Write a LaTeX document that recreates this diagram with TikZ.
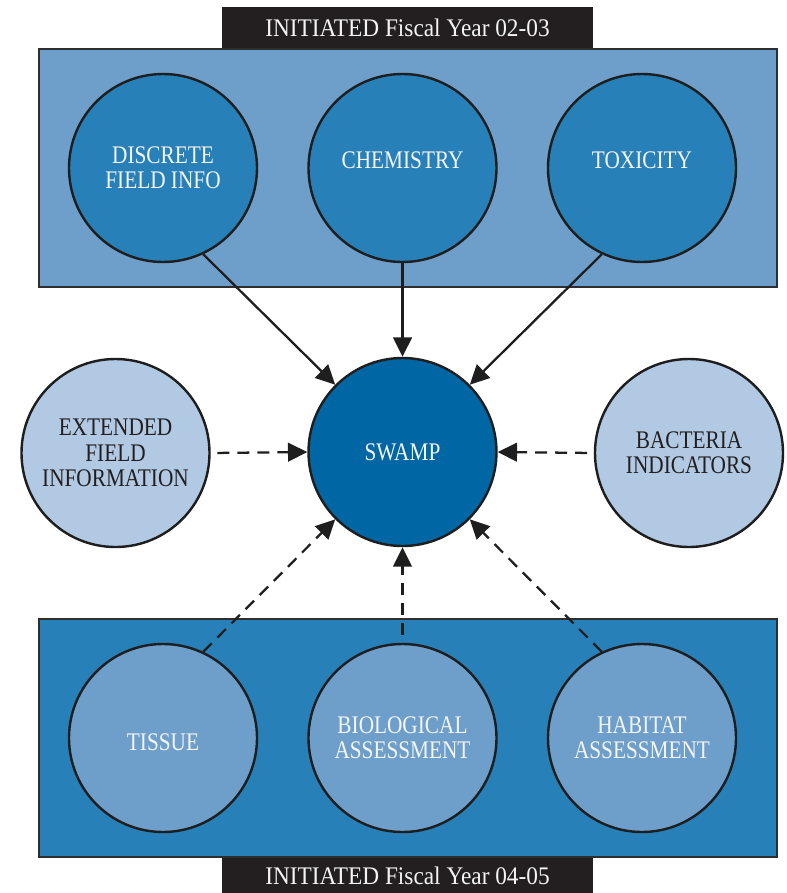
\documentclass[tikz,border=0pt]{standalone}
\usepackage{fontspec}
\setmainfont{Liberation Serif}
\newfontfamily\lblfont[FakeStretch=0.84]{Liberation Serif}
\newfontfamily\ttlfont[FakeStretch=0.92]{Liberation Serif}
\usetikzlibrary{arrows.meta}
\definecolor{topbox}{HTML}{6E9FCB}
\definecolor{topcirc}{HTML}{2880B9}
\definecolor{swampc}{HTML}{0066A4}
\definecolor{sidec}{HTML}{B1C9E3}
\definecolor{botbox}{HTML}{2880B9}
\definecolor{botcirc}{HTML}{6E9FCB}
\definecolor{barc}{HTML}{231F20}
\definecolor{boxline}{HTML}{2E2E2E}
\definecolor{inkc}{HTML}{1E1E1E}
\definecolor{paper}{HTML}{F4F4F4}
\tikzset{
  bubble/.style={circle, draw=inkc, line width=1.8pt, minimum size=141pt, inner sep=0pt,
    align=center, font={\lblfont\fontsize{19}{19}\selectfont}},
  darkbubble/.style={bubble, text=paper},
  lightbubble/.style={bubble, text=barc},
  panel/.style={draw=boxline, line width=2pt},
  bartext/.style={text=paper, font={\ttlfont\fontsize{19}{19}\selectfont}, inner sep=0pt},
  link/.style={draw=inkc, line width=1.7pt, -{Triangle[length=14.5pt,width=14pt]}},
  dlink/.style={link, dash pattern=on 9pt off 6pt}
}
\begin{document}
\begin{tikzpicture}[x=0.75pt,y=-0.75pt]
\useasboundingbox (0,0) rectangle (787,893);
\fill[white] (0,0) rectangle (787,893);
% panels
\filldraw[panel, fill=topbox] (39,49) rectangle (777,287);
\filldraw[panel, fill=botbox] (39,619) rectangle (777,857);
% title bars
\fill[barc] (222,7) rectangle (593,48);
\fill[barc] (222,858) rectangle (593,898);
\node[bartext] (ttop) at (407.5,27.5) {INITIATED Fiscal Year 02-03};
\node[bartext] (tbot) at (407.5,875.5) {INITIATED Fiscal Year 04-05};
% circles
\node[darkbubble, fill=topcirc] (dfi) at (163,168) {DISCRETE\\FIELD INFO};
\node[darkbubble, fill=topcirc] (chem) at (402.5,168) {\smash{CHEMISTRY}};
\node[darkbubble, fill=topcirc] (tox) at (642,168) {\smash{TOXICITY}};
\node[darkbubble, fill=swampc] (swamp) at (402.5,452) {SWAMP};
\node[lightbubble, fill=sidec] (ext) at (115.5,453) {EXTENDED\\FIELD\\INFORMATION};
\node[lightbubble, fill=sidec] (bac) at (689,453) {BACTERIA\\INDICATORS};
\node[darkbubble, fill=botcirc] (tis) at (163,738) {\smash{\raisebox{-9pt}{TISSUE}}};
\node[darkbubble, fill=botcirc] (bio) at (402.5,738) {BIOLOGICAL\\ASSESSMENT};
\node[darkbubble, fill=botcirc] (hab) at (642,738) {HABITAT\\ASSESSMENT};
% connectors
\draw[link] (dfi.-65) -- (swamp.135);
\draw[link] (chem.south) -- (swamp.north);
\draw[link] (tox.-115) -- (swamp.45);
\draw[dlink, shorten <=5pt] (ext.east) -- (swamp.west);
\draw[dlink, shorten <=5pt] (bac.west) -- (swamp.east);
\draw[dlink] (tis.65) -- (swamp.225);
\draw[dlink, shorten <=6pt] (bio.north) -- (swamp.south);
\draw[dlink] (hab.115) -- (swamp.-45);
\end{tikzpicture}
\end{document}
